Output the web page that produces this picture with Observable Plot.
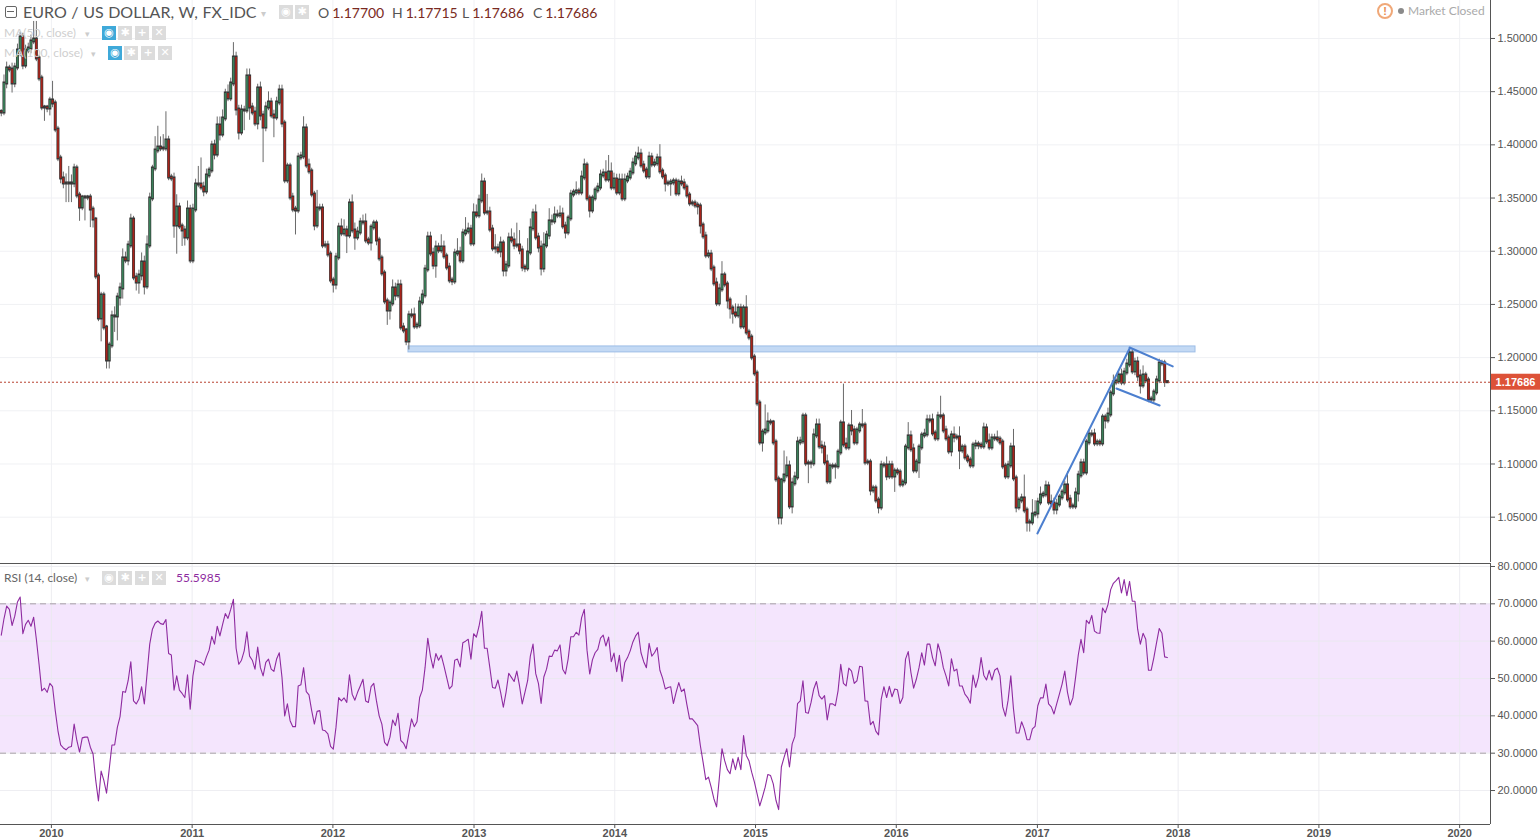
<!DOCTYPE html>
<html><head><meta charset="utf-8">
<script src="https://cdn.jsdelivr.net/npm/d3@7"></script>
<script src="https://cdn.jsdelivr.net/npm/@observablehq/plot@0.6"></script>
<style>
html,body{margin:0;background:#fff;overflow:hidden}
#wrap{position:relative;width:1540px;height:840px;font-family:"Lato","Liberation Sans",sans-serif;color:#555}
#top,#bot{position:absolute;left:0}
#top{top:0}#bot{top:563px}
.t{position:absolute;white-space:nowrap;line-height:1}
.ic{position:absolute;width:14px;height:14px;background:#dcdcdc;color:#fff;font:bold 11px/14px "DejaVu Sans",sans-serif;text-align:center}
.ic.b{background:#3fa9d9}
</style></head><body>
<div id="wrap"><div id="top"></div><div id="bot"></div></div>
<script>
const firstWeek = new Date(Date.UTC(2009,7,24));
const firstOpen = 1.4310;
const closes = [
1.4304,1.4577,1.4718,1.4708,1.4577,1.4727,1.4887,1.5009,1.4746,1.4887,
1.4906,1.4972,1.4990,1.4812,1.4624,1.4351,1.4351,1.4342,1.4417,1.4389,
1.4144,1.3872,1.3684,1.3637,1.3637,1.3637,1.3637,1.3778,1.3524,1.3411,
1.3505,1.3505,1.3505,1.3392,1.3298,1.2763,1.2368,1.2584,1.2283,1.1973,
1.2114,1.2387,1.2387,1.2565,1.2650,1.2932,1.2913,1.3054,1.3298,1.2753,
1.2706,1.2772,1.2894,1.2669,1.3054,1.3496,1.3778,1.3947,1.3975,1.3966,
1.3966,1.4041,1.3693,1.3684,1.3242,1.3411,1.3233,1.3195,1.3129,1.3392,
1.2913,1.3392,1.3627,1.3627,1.3599,1.3562,1.3712,1.3759,1.3994,1.3909,
1.4182,1.4097,1.4248,1.4483,1.4436,1.4577,1.4821,1.4332,1.4116,1.4323,
1.4323,1.4643,1.4351,1.4304,1.4201,1.4530,1.4276,1.4163,1.4351,1.4398,
1.4276,1.4257,1.4398,1.4511,1.4201,1.3665,1.3797,1.3505,1.3392,1.3383,
1.3881,1.3891,1.4154,1.3806,1.3750,1.3533,1.3242,1.3402,1.3402,1.3054,
1.3054,1.2969,1.2725,1.2687,1.2941,1.3223,1.3167,1.3195,1.3148,1.3449,
1.3195,1.3129,1.3176,1.3270,1.3270,1.3101,1.3082,1.3223,1.3261,1.3101,
1.2932,1.2791,1.2528,1.2443,1.2509,1.2650,1.2584,1.2678,1.2283,1.2255,
1.2152,1.2396,1.2396,1.2293,1.2302,1.2518,1.2584,1.2828,1.3129,1.2979,
1.2866,1.3035,1.3007,1.3035,1.2951,1.2847,1.2725,1.2716,1.2979,1.2988,
1.2913,1.3167,1.3186,1.3204,1.3073,1.3355,1.3336,1.3477,1.3646,1.3364,
1.3364,1.3204,1.3026,1.3026,1.2998,1.3073,1.2819,1.2866,1.3120,1.3101,
1.3054,1.3054,1.3007,1.2847,1.2838,1.2988,1.3214,1.3355,1.3129,1.3035,
1.2838,1.3054,1.3148,1.3280,1.3280,1.3336,1.3336,1.3345,1.3233,1.3176,
1.3308,1.3533,1.3552,1.3562,1.3552,1.3693,1.3806,1.3496,1.3383,1.3496,
1.3571,1.3599,1.3712,1.3731,1.3674,1.3740,1.3599,1.3674,1.3552,1.3665,
1.3496,1.3665,1.3693,1.3740,1.3825,1.3881,1.3909,1.3806,1.3759,1.3703,
1.3881,1.3815,1.3825,1.3872,1.3750,1.3703,1.3637,1.3637,1.3646,1.3656,
1.3543,1.3646,1.3637,1.3599,1.3524,1.3449,1.3449,1.3430,1.3421,1.3242,
1.3139,1.2960,1.2969,1.2838,1.2697,1.2509,1.2641,1.2772,1.2687,1.2537,
1.2462,1.2415,1.2396,1.2462,1.2293,1.2462,1.2236,1.2189,1.2001,1.1851,
1.1569,1.1202,1.1296,1.1315,1.1390,1.1390,1.1202,1.0855,1.0497,1.0845,
1.0892,1.0977,1.0601,1.0817,1.0873,1.1202,1.1212,1.1447,1.1005,1.1005,
1.1005,1.1268,1.1362,1.1165,1.1155,1.1014,1.0836,1.0977,1.0977,1.0977,
1.1108,1.1381,1.1183,1.1155,1.1353,1.1315,1.1202,1.1315,1.1362,1.1362,
1.1014,1.1014,1.0751,1.0770,1.0657,1.0591,1.0986,1.0986,1.0883,1.0986,
1.0883,1.0930,1.0920,1.0807,1.0826,1.1155,1.1259,1.1137,1.0939,1.1014,
1.1155,1.1268,1.1277,1.1409,1.1409,1.1287,1.1240,1.1447,1.1447,1.1315,
1.1240,1.1118,1.1268,1.1249,1.1249,1.1127,1.1155,1.1061,1.1033,1.0986,
1.1174,1.1183,1.1174,1.1165,1.1334,1.1212,1.1155,1.1240,1.1240,1.1230,
1.1202,1.0977,1.0883,1.0986,1.1155,1.0864,1.0591,1.0657,1.0676,1.0563,
1.0450,1.0450,1.0525,1.0535,1.0638,1.0704,1.0713,1.0789,1.0638,1.0629,
1.0572,1.0619,1.0685,1.0732,1.0798,1.0666,1.0601,1.0601,1.0723,1.0892,
1.1005,1.0920,1.1202,1.1277,1.1277,1.1193,1.1202,1.1193,1.1437,1.1409,
1.1465,1.1663,1.1766,1.1776,1.1832,1.1766,1.1860,1.1935,1.2039,1.1870,
1.1954,1.1823,1.1738,1.1832,1.1785,1.1606,1.1606,1.1672,1.1785,1.1945,
1.1945,1.1770,1.17686];
// upper / lower wick length of each candle, in thousandths of a dollar
const upperWick = [
2,8,6,3,6,4,6,5,4,5,
5,6,17,17,3,3,2,2,3,18,
3,3,3,6,9,16,8,4,3,3,
2,2,2,3,3,2,3,3,3,2,
3,5,9,4,5,9,6,4,5,3,
4,5,9,6,9,5,3,13,20,10,
13,27,4,3,5,12,4,3,4,8,
4,5,5,17,25,5,6,3,4,5,
8,8,8,4,8,5,14,5,4,5,
4,7,7,4,5,4,6,4,5,10,
4,5,5,5,5,3,3,3,4,3,
4,4,11,4,6,3,3,17,4,4,
4,4,3,3,4,4,8,10,4,4,
8,7,5,4,7,8,3,3,3,3,
3,3,3,3,3,8,5,5,5,4,
2,4,6,7,3,5,5,4,5,5,
5,6,4,12,6,3,4,3,4,13,
5,4,13,6,4,9,8,5,8,4,
17,5,4,13,4,6,3,4,5,9,
7,21,14,4,3,13,9,4,8,4,
6,12,4,12,6,8,5,8,6,4,
3,4,3,9,3,6,6,3,3,3,
3,4,5,4,12,16,9,6,5,6,
6,6,4,4,5,5,7,5,4,3,
5,4,4,4,13,3,3,3,3,3,
3,3,6,4,3,3,3,3,3,3,
3,4,4,4,3,5,5,13,3,3,
3,3,9,4,4,3,12,3,3,3,
3,3,3,24,9,3,2,3,3,2,
23,9,5,5,5,5,4,3,3,3,
3,6,6,6,5,5,7,3,3,3,
3,3,37,6,3,15,4,3,3,15,
3,3,3,3,3,3,4,3,8,4,
4,3,3,3,3,3,13,5,5,3,
3,3,5,5,5,6,3,4,19,3,
4,3,4,8,3,10,3,3,3,3,
3,4,3,3,5,4,7,4,4,7,
3,3,3,4,4,17,3,3,4,22,
3,3,14,12,4,8,3,5,4,7,
5,5,3,3,4,13,4,3,5,4,
4,4,3,4,4,5,3,3,3,3,
6,3,7,3,3,6,4,5,4,3,
4,5,6,9,3,3,3,3,4,4,
3,3,0];
const lowerWick = [
4,3,5,3,9,4,3,6,4,3,
3,5,3,3,3,3,13,4,7,4,
3,3,5,5,18,18,18,4,3,13,
3,22,3,17,8,3,3,22,3,8,
8,3,15,23,8,10,3,5,3,3,
8,11,5,8,3,3,3,3,3,3,
3,3,3,3,12,27,3,15,8,3,
3,3,3,3,3,5,3,3,3,5,
3,6,3,3,3,3,3,6,7,3,
19,3,12,3,3,6,5,33,4,3,
3,19,3,3,4,3,3,3,3,23,
3,3,3,3,3,3,5,3,3,3,
3,3,3,8,5,3,3,3,17,3,
3,12,3,3,3,3,3,8,3,5,
3,3,3,14,9,3,5,3,3,3,
4,8,3,3,3,3,3,3,3,3,
4,12,3,3,3,3,3,4,3,3,
3,3,3,3,3,3,3,3,3,3,
3,3,3,5,3,6,6,6,3,3,
4,3,4,4,4,3,3,3,3,5,
7,4,3,4,4,3,3,3,3,6,
3,3,3,3,3,3,3,3,7,3,
3,3,3,3,3,3,3,3,3,3,
3,3,3,3,3,3,3,3,3,3,
3,3,3,3,3,3,8,3,12,3,
3,3,3,3,3,3,3,3,8,8,
3,3,3,3,3,3,3,3,3,8,
10,10,3,3,3,3,3,3,3,3,
3,3,9,3,3,3,3,3,7,7,
3,3,3,7,3,3,3,3,3,19,
5,3,3,3,6,3,3,3,3,12,
3,3,3,3,3,5,3,3,3,3,
3,3,5,3,3,6,3,3,4,3,
3,15,3,3,3,3,3,3,3,3,
15,3,3,3,3,3,3,3,3,3,
3,3,5,5,3,18,3,3,3,3,
3,4,4,3,3,3,3,3,3,3,
3,3,3,3,3,3,5,3,3,3,
9,9,3,3,5,3,3,3,3,3,
5,5,3,3,3,3,3,3,3,8,
3,3,3,3,3,3,3,3,3,8,
3,3,3,3,3,3,3,3,3,3,
4,5,8,3,3,3,3,3,3,3,
3,5,0];
const rsiValues = [
61.6,66,69.4,68.5,64.2,66.7,70.5,71.8,62,64.5,
65.6,64,66.4,60.5,53.8,46.7,47.4,46.3,48.7,47.8,
41.4,36,32.2,31.4,30.9,31.6,31.8,37.8,33.4,30.3,
34.1,34.3,34.3,31.6,29.8,22.7,17.2,25.2,22.7,19.3,
25.8,32.2,32.2,36.9,39.8,46.5,46.3,49.4,54.5,44,
43.2,44.5,47.8,43.2,51.2,59.2,63.2,64.8,65.4,64.7,
64.5,65.8,56.7,56.3,46.9,50.7,46.9,46,44.9,51,
41.8,50.7,54.9,54.5,54.3,53.6,55.8,57.6,61.3,59.2,
64,61.4,64.5,67.4,66.1,68.5,71.2,58.1,53.8,54.9,
57.4,62.5,56,54.9,52.5,58.4,52.9,50.7,54.3,55.2,
52.5,51.9,55.2,56.9,50.3,40,43.2,38.7,37.1,37.1,
48,48.3,52.9,46.5,45.6,41.4,37.8,41.2,41.4,36.2,
36,35.2,31.8,31.1,36.9,44.9,44,44.8,43.6,51,
45.8,44.2,46.3,48,49.8,44,43.6,47.8,48.7,44,
40,37.8,32.9,32,34.3,38.9,37.4,40.7,33.4,32.7,
31.2,35.2,39.2,37.1,38.4,44.9,46.9,52.9,60.8,56,
52.8,56.7,54.9,56.2,53.4,50.3,47.2,48,54.9,55.2,
53.1,59.6,60,60.5,55.2,62,61.1,64,68,58.1,
58.1,52.9,47.6,47.4,49.6,46.3,42.3,46.3,51.4,50.3,
49.2,52,48,43.2,46.3,49.4,56,59.2,51.3,48.7,
43.3,50.4,52.5,56,55.9,57.6,57.4,59,52.5,51.2,
55.2,61.2,61.2,62.4,61.6,66.3,68.5,57.6,51.2,55,
56.9,57.8,60.8,61.6,58.7,61.1,54.5,56.8,51.8,56.2,
49.2,54.3,55.6,57.4,59.8,61.4,62.4,56.9,54.5,52.9,
59.4,56,56.9,58.3,52.2,50.1,47.2,47.6,47.8,43.3,
46.3,48.9,46.5,47.2,43,39.2,39.2,38.3,37.4,32,
27.6,22.9,23.6,20.9,17.8,15.6,23.2,31.2,28,25.6,
24.5,28.5,25.6,28.9,25.6,34.7,29.4,28,24.9,22.3,
19.2,15.9,18.3,20.9,24.3,24,21.8,17.4,14.9,26.3,
28.9,31.2,26.3,32.5,34.5,43.3,44,49.4,40.9,40.7,
43.6,47.2,49.2,45.4,44.5,45.4,38.9,43.2,43.2,42.7,
46.7,53.8,48.7,48,52.8,52,48.7,49.4,53.3,53.1,
44,43.9,37.6,38.5,35.9,34.9,44.5,47.8,44.9,47.9,
45.1,47.2,47,43.3,44.9,55.2,57.2,51.6,47.4,49.8,
52.9,56.9,53.6,59.2,59.2,55.6,53.4,59.3,56.9,52.9,
50.7,48,55.3,52,52.5,48,48,45.8,44.9,43.4,
50.9,47.6,50.3,55.6,50.9,49.6,52.2,49.6,52.2,52.8,
50.7,42.4,39.9,44.2,50.7,41.8,35.4,35.4,38.4,36.5,
33.6,33.6,36.5,37.2,42.7,44.8,44.8,48.5,43.2,42.4,
40.5,43.2,45.8,48.5,52,46.3,42.9,44.8,50.3,56.3,
60.5,56.9,65.6,64.7,66.9,62.7,62.2,62.1,68.9,67.6,
69.8,73.8,75.5,76.2,77.1,72.9,76.5,72.2,76,70.7,
70.7,63.2,59.2,62.1,60.5,52.2,52.2,55.6,59.6,63.4,
62.1,55.8,55.6];
const priceTicks = [1.05,1.10,1.15,1.20,1.25,1.30,1.35,1.40,1.45,1.50];
const rsiTicks = [20,30,40,50,60,70,80];
const years = [2010,2011,2012,2013,2014,2015,2016,2017,2018,2019,2020];
const lastPrice = 1.17686;
const lastRsi = "55.5985";
const ohlc = {o:"1.17700",h:"1.17715",l:"1.17686",c:"1.17686"};
const resistanceZone = {x1:"2012-07-15",x2:"2018-02-15",y1:1.2049,y2:1.2105};
const trendLines = [
 [["2017-01-01",1.0347],["2017-08-28",1.2086]],
 [["2017-08-28",1.2095],["2017-12-18",1.1917]],
 [["2017-07-25",1.1710],["2017-11-14",1.1550]]
];

const utc = s => new Date(s+"T00:00:00Z");
const xDomain = [new Date(Date.UTC(2009,7,22)), new Date(Date.UTC(2020,2,21))];
const yearDates = years.map(y=>new Date(Date.UTC(y,0,1)));
const UP="#3a8059", DOWN="#a8231a", EDGE="#383838", AXIS="#555", GRID="#f0f1f4";
const candles = closes.map((c,i)=>{
  const o = i?closes[i-1]:firstOpen;
  return {date:d3.utcDay.offset(firstWeek,7*i),o,c,
    low:Math.min(o,c)-lowerWick[i]/1000,high:Math.max(o,c)+upperWick[i]/1000,fill:c>=o?UP:DOWN,rsi:rsiValues[i]};
});
const font={fontFamily:"'Liberation Sans',Arial,sans-serif",fontSize:"11px",background:"transparent",overflow:"visible"};

const tag=(index,{y},values,{width,marginRight})=>{
  const g=d3.create("svg:g"), yy=y(lastPrice), x0=width-marginRight+1;
  g.append("rect").attr("x",x0).attr("y",yy-8).attr("width",49).attr("height",16).attr("fill","#dd5238");
  g.append("text").attr("x",x0+24.5).attr("y",yy+4).attr("text-anchor","middle").attr("fill","#fff")
   .attr("font-weight","bold").attr("font-size",11).text(lastPrice.toFixed(5));
  return g.node();
};

const top1=Plot.plot({
  width:1540,height:562,marginLeft:0,marginRight:50,marginTop:0,marginBottom:0,style:font,
  x:{type:"utc",domain:xDomain,axis:null},y:{domain:[1.0074,1.5357]},
  marks:[
    Plot.gridX(yearDates,{stroke:GRID,strokeOpacity:1}),
    Plot.gridY(priceTicks,{stroke:GRID,strokeOpacity:1}),
    Plot.rect([resistanceZone],{x1:d=>utc(d.x1),x2:d=>utc(d.x2),y1:"y1",y2:"y2",fill:"#c3d9f4",stroke:"#9dbde6",strokeWidth:1}),
    Plot.ruleX(candles,{x:"date",y1:"low",y2:"high",stroke:"#6a6a6a",strokeWidth:1}),
    Plot.ruleX(candles,{x:"date",y1:"o",y2:"c",stroke:EDGE,strokeWidth:3,strokeLinecap:"square"}),
    Plot.ruleX(candles,{x:"date",y1:"o",y2:"c",stroke:"fill",strokeWidth:1.7}),
    Plot.ruleY([lastPrice],{stroke:"#b8402f",strokeWidth:1,strokeDasharray:"2,2"}),
    ...trendLines.map(t=>Plot.line(t,{x:d=>utc(d[0]),y:d=>d[1],stroke:"#4c7fcf",strokeWidth:2})),
    Plot.ruleX([xDomain[1]],{stroke:AXIS}),
    Plot.axisY(priceTicks,{anchor:"right",tickSize:4,tickPadding:3,label:null,tickFormat:d=>d.toFixed(5),stroke:AXIS,fill:"#555"}),
    tag
  ]});
document.getElementById("top").append(top1);

const bot=Plot.plot({
  width:1540,height:277,marginLeft:0,marginRight:50,marginTop:0,marginBottom:16,style:font,
  x:{type:"utc",domain:xDomain},y:{domain:[10.9,80.8]},
  marks:[
    Plot.rect([{y1:30,y2:70}],{x1:()=>xDomain[0],x2:()=>xDomain[1],y1:"y1",y2:"y2",fill:"#f4e5fd"}),
    Plot.gridX(yearDates,{stroke:"#e9e8ee",strokeOpacity:.8}),
    Plot.gridY(rsiTicks,{stroke:"#e9e8ee",strokeOpacity:.8}),
    Plot.ruleY([30,70],{stroke:"#a89fa8",strokeWidth:1,strokeDasharray:"6,4"}),
    Plot.line(candles,{x:"date",y:"rsi",stroke:"#8e2ba0",strokeWidth:1.1}),
    Plot.ruleY([10.9],{stroke:AXIS}),
    Plot.ruleY([80.8],{stroke:AXIS}),
    Plot.ruleX([xDomain[1]],{stroke:AXIS}),
    Plot.axisY(rsiTicks,{anchor:"right",tickSize:4,tickPadding:3,label:null,tickFormat:d=>d.toFixed(4),stroke:AXIS,fill:"#555"}),
    Plot.axisX(yearDates,{anchor:"bottom",tickSize:4,tickPadding:1,label:null,tickFormat:d=>String(d.getUTCFullYear()),stroke:AXIS,fill:"#555",fontWeight:"bold"})
  ]});
document.getElementById("bot").append(bot);

// header text and controls
const wrap=document.getElementById("wrap");
function T(x,y,txt,css){const e=document.createElement("div");e.className="t";e.style.cssText=`left:${x}px;top:${y}px;${css||""}`;e.innerHTML=txt;wrap.append(e);return e;}
function I(x,y,g,b){const e=document.createElement("div");e.className="ic"+(b?" b":"");e.style.left=x+"px";e.style.top=y+"px";e.textContent=g;wrap.append(e);}
const box=document.createElement("div");box.style.cssText="position:absolute;left:5px;top:6px;width:10px;height:10px;border:1px solid #666;border-radius:2px";wrap.append(box);
const dash=document.createElement("div");dash.style.cssText="position:absolute;left:7px;top:11px;width:7px;height:1px;background:#666";wrap.append(dash);
T(23,4,"EURO / US DOLLAR, W, FX_IDC","font-size:16px;color:#555;word-spacing:0.5px");
T(261,8,"▾","font-size:10px;color:#ccc");
I(279,5,"◉");I(295,5,"✱");
const red="color:#7a2a22;margin-left:3px";
[[318,"O",ohlc.o],[392,"H",ohlc.h],[462,"L",ohlc.l],[533,"C",ohlc.c]].forEach(([x,k,v])=>
  T(x,6,`${k}<span style="${red}">${v}</span>`,"font-size:14px;color:#555"));
T(4,27,"MA(50, close)","font-size:12px;color:#cfcfcf");T(85,29,"▾","font-size:9px;color:#ccc");
I(102,26,"◉",1);I(118,26,"✱");I(135,26,"+");I(152,26,"✕");
T(4,47,"MA(100, close)","font-size:12px;color:#cfcfcf");T(91,49,"▾","font-size:9px;color:#ccc");
I(108,46,"◉",1);I(124,46,"✱");I(141,46,"+");I(158,46,"✕");
T(4,572,"RSI (14, close)","font-size:12px;color:#666");T(85,574,"▾","font-size:9px;color:#ccc");
I(102,571,"◉");I(118,571,"✱");I(135,571,"+");I(152,571,"✕");
T(176,572,lastRsi,"font-size:12px;color:#8e2ba0");
const ring=document.createElement("div");ring.style.cssText="position:absolute;left:1377px;top:3px;width:12px;height:12px;border:2px solid #f0a878;border-radius:50%;color:#e98a4d;font:bold 11px/12px 'Liberation Sans';text-align:center";ring.textContent="!";wrap.append(ring);
const dot=document.createElement("div");dot.style.cssText="position:absolute;left:1398px;top:8px;width:6px;height:6px;border-radius:50%;background:#8a8a8a";wrap.append(dot);
T(1408,5,"Market Closed","font-size:12px;color:#aaa");
</script></body></html>
